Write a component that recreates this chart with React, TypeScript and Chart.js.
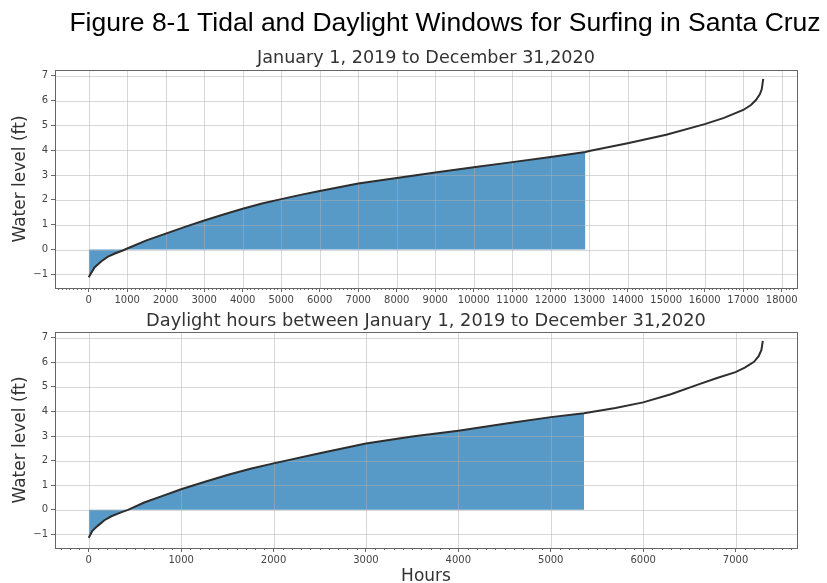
import React, { useEffect, useRef } from "react";
import { Chart, registerables } from "chart.js";

Chart.register(...registerables);

// ---- Data ----
const SUPTITLE = "Figure 8-1 Tidal and Daylight Windows for Surfing in Santa Cruz";
const TOP_TITLE = "January 1, 2019 to December 31,2020";
const BOTTOM_TITLE = "Daylight hours between January 1, 2019 to December 31,2020";
const Y_LABEL = "Water level (ft)";
const X_LABEL = "Hours";

const TOP_X = [0, 150, 330, 500, 680, 900, 1000, 1500, 2000, 2500, 3000, 3500, 4000, 4500, 5000, 5500, 6000, 7000, 8000, 9000, 10000, 11000, 12000, 12900, 13000, 14000, 15000, 16000, 16500, 17000, 17200, 17330, 17430, 17480, 17519];
const TOP_Y = [-1.12, -0.72, -0.47, -0.29, -0.16, -0.03, 0.04, 0.37, 0.64, 0.91, 1.17, 1.41, 1.64, 1.85, 2.03, 2.2, 2.36, 2.66, 2.88, 3.1, 3.31, 3.52, 3.73, 3.93, 3.97, 4.28, 4.62, 5.05, 5.3, 5.62, 5.82, 6.02, 6.25, 6.45, 6.87];
const TOP_FILL_END = 12900;
const TOP_X_TICKS = [0, 1000, 2000, 3000, 4000, 5000, 6000, 7000, 8000, 9000, 10000, 11000, 12000, 13000, 14000, 15000, 16000, 17000, 18000];

const BOTTOM_X = [0, 40, 100, 170, 245, 350, 425, 600, 800, 1000, 1250, 1500, 1750, 2000, 2500, 3000, 3500, 4000, 4500, 5000, 5360, 5700, 6000, 6300, 6600, 6800, 7000, 7100, 7200, 7250, 7280, 7295];
const BOTTOM_Y = [-1.13, -0.85, -0.64, -0.42, -0.26, -0.1, 0.0, 0.3, 0.57, 0.84, 1.13, 1.42, 1.67, 1.89, 2.3, 2.7, 2.98, 3.22, 3.5, 3.77, 3.93, 4.14, 4.37, 4.7, 5.1, 5.36, 5.6, 5.78, 6.02, 6.25, 6.5, 6.87];
const BOTTOM_FILL_END = 5360;
const BOTTOM_X_TICKS = [0, 1000, 2000, 3000, 4000, 5000, 6000, 7000];

const Y_TICKS = [-1, 0, 1, 2, 3, 4, 5, 6, 7];

const FONT = "'DejaVu Sans', sans-serif";
const TICK_COLOR = "#444";
const SPINE_COLOR = "#666";
const GRID_COLOR = "rgba(176,176,176,0.5)";
const FILL_COLOR = "rgba(31,119,180,0.75)";
const LINE_COLOR = "#2e2e2e";

type SubProps = {
  xs: number[];
  ys: number[];
  fillEnd: number;
  xTicks: number[];
  xMin: number;
  xMax: number;
  minorStep: number;
  height: number;
  padTop: number;
  plotBottom: number;
};

function SubChart(p: SubProps) {
  const ref = useRef<HTMLCanvasElement | null>(null);
  useEffect(() => {
    if (!ref.current) return;
    const linePts = p.xs.map((x, i) => ({ x, y: p.ys[i] }));
    const fillPts = linePts.filter((pt) => pt.x <= p.fillEnd);

    const gridOver = {
      id: "gridOver",
      afterDatasetDraw(chart: any, args: any) {
        if (args.index !== 1) return;
        const { ctx, chartArea: a } = chart;
        const xs = chart.scales.x;
        const ys = chart.scales.y;
        ctx.save();
        ctx.beginPath();
        ctx.rect(a.left, a.top, a.right - a.left, a.bottom - a.top);
        ctx.clip();
        ctx.strokeStyle = GRID_COLOR;
        ctx.lineWidth = 1;
        ctx.beginPath();
        for (const t of xs.ticks) {
          const px = Math.round(xs.getPixelForValue(t.value)) + 0.5;
          ctx.moveTo(px, a.top);
          ctx.lineTo(px, a.bottom);
        }
        for (const t of ys.ticks) {
          const py = Math.round(ys.getPixelForValue(t.value)) + 0.5;
          ctx.moveTo(a.left, py);
          ctx.lineTo(a.right, py);
        }
        ctx.stroke();
        ctx.restore();
      },
    };

    const frame = {
      id: "frame",
      afterDraw(chart: any) {
        const { ctx, chartArea: a } = chart;
        const xs = chart.scales.x;
        ctx.save();
        ctx.strokeStyle = SPINE_COLOR;
        ctx.lineWidth = 1;
        ctx.beginPath();
        const start = Math.ceil(xs.min / p.minorStep) * p.minorStep;
        for (let v = start; v <= xs.max; v += p.minorStep) {
          if (v % 1000 === 0) continue;
          const px = Math.round(xs.getPixelForValue(v)) + 0.5;
          ctx.moveTo(px, a.bottom);
          ctx.lineTo(px, a.bottom + 2);
        }
        ctx.stroke();
        ctx.strokeRect(Math.round(a.left) + 0.5, Math.round(a.top) + 0.5, Math.round(a.right - a.left), Math.round(a.bottom - a.top));
        ctx.restore();
      },
    };

    const chart = new Chart(ref.current, {
      type: "line",
      data: {
        datasets: [
          {
            data: linePts,
            borderColor: LINE_COLOR,
            borderWidth: 2,
            pointRadius: 0,
            fill: false,
            tension: 0,
          },
          {
            data: fillPts,
            borderWidth: 0,
            borderColor: "rgba(0,0,0,0)",
            backgroundColor: FILL_COLOR,
            pointRadius: 0,
            fill: "origin",
            tension: 0,
          },
        ],
      },
      options: {
        animation: false,
        responsive: false,
        devicePixelRatio: 1,
        events: [],
        layout: { padding: { left: 0, right: 30, top: p.padTop, bottom: 0 } },
        plugins: { legend: { display: false }, tooltip: { enabled: false }, title: { display: false } },
        scales: {
          x: {
            type: "linear",
            min: p.xMin,
            max: p.xMax,
            afterBuildTicks: (s: any) => {
              s.ticks = p.xTicks.map((v) => ({ value: v }));
            },
            afterFit: (s: any) => {
              s.height = p.height - p.plotBottom;
            },
            grid: { drawOnChartArea: false, drawTicks: true, tickLength: 4, tickColor: SPINE_COLOR },
            border: { display: false },
            ticks: {
              autoSkip: false,
              maxRotation: 0,
              padding: 2,
              color: TICK_COLOR,
              font: { family: FONT, size: 10 },
              callback: (v: any) => String(v),
            },
          },
          y: {
            type: "linear",
            min: -1.55,
            max: 7.23,
            afterBuildTicks: (s: any) => {
              s.ticks = Y_TICKS.map((v) => ({ value: v }));
            },
            afterFit: (s: any) => {
              s.width = 55;
            },
            grid: { drawOnChartArea: false, drawTicks: true, tickLength: 4, tickColor: SPINE_COLOR },
            border: { display: false },
            ticks: {
              autoSkip: false,
              padding: 3,
              color: TICK_COLOR,
              font: { family: FONT, size: 10 },
              callback: (v: any) => (v < 0 ? "\u2212" + Math.abs(v) : String(v)),
            },
          },
        },
      },
      plugins: [gridOver, frame],
    } as any);
    return () => chart.destroy();
  }, []);
  return <canvas ref={ref} width={827} height={p.height} style={{ width: 827, height: p.height, display: "block" }} />;
}

export default function App() {
  const abs = (s: React.CSSProperties): React.CSSProperties => ({ position: "absolute", whiteSpace: "nowrap", ...s });
  return (
    <div style={{ position: "absolute", left: 0, top: 0, width: 827, height: 583, background: "#fff", overflow: "hidden" }}>
      <div style={abs({ left: 0, top: 0 })}>
        <SubChart xs={TOP_X} ys={TOP_Y} fillEnd={TOP_FILL_END} xTicks={TOP_X_TICKS} xMin={-876} xMax={18396} minorStep={100} height={310} padTop={70} plotBottom={288} />
      </div>
      <div style={abs({ left: 0, top: 300 })}>
        <SubChart xs={BOTTOM_X} ys={BOTTOM_Y} fillEnd={BOTTOM_FILL_END} xTicks={BOTTOM_X_TICKS} xMin={-365} xMax={7665} minorStep={100} height={283} padTop={32} plotBottom={248} />
      </div>
      <div style={abs({ left: 0, width: 890, top: 8, textAlign: "center", fontFamily: "'Liberation Sans', Arial, sans-serif", fontSize: 26.5, lineHeight: "28px", color: "#000" })}>
        {SUPTITLE}
      </div>
      <div style={abs({ left: 55, width: 742, top: 47, textAlign: "center", fontFamily: FONT, fontSize: 17.6, lineHeight: "20px", color: "#333" })}>
        {TOP_TITLE}
      </div>
      <div style={abs({ left: 55, width: 742, top: 310, textAlign: "center", fontFamily: FONT, fontSize: 17.8, lineHeight: "20px", color: "#333" })}>
        {BOTTOM_TITLE}
      </div>
      <div style={abs({ left: 19, top: 179, width: 0, height: 0 })}>
        <div style={{ position: "absolute", left: 0, top: 0, transform: "translate(-50%,-50%) rotate(-90deg)", fontFamily: FONT, fontSize: 17, lineHeight: "20px", color: "#333", whiteSpace: "nowrap" }}>{Y_LABEL}</div>
      </div>
      <div style={abs({ left: 19, top: 440, width: 0, height: 0 })}>
        <div style={{ position: "absolute", left: 0, top: 0, transform: "translate(-50%,-50%) rotate(-90deg)", fontFamily: FONT, fontSize: 17, lineHeight: "20px", color: "#333", whiteSpace: "nowrap" }}>{Y_LABEL}</div>
      </div>
      <div style={abs({ left: 55, width: 742, top: 565, textAlign: "center", fontFamily: FONT, fontSize: 17, lineHeight: "20px", color: "#333" })}>
        {X_LABEL}
      </div>
    </div>
  );
}
